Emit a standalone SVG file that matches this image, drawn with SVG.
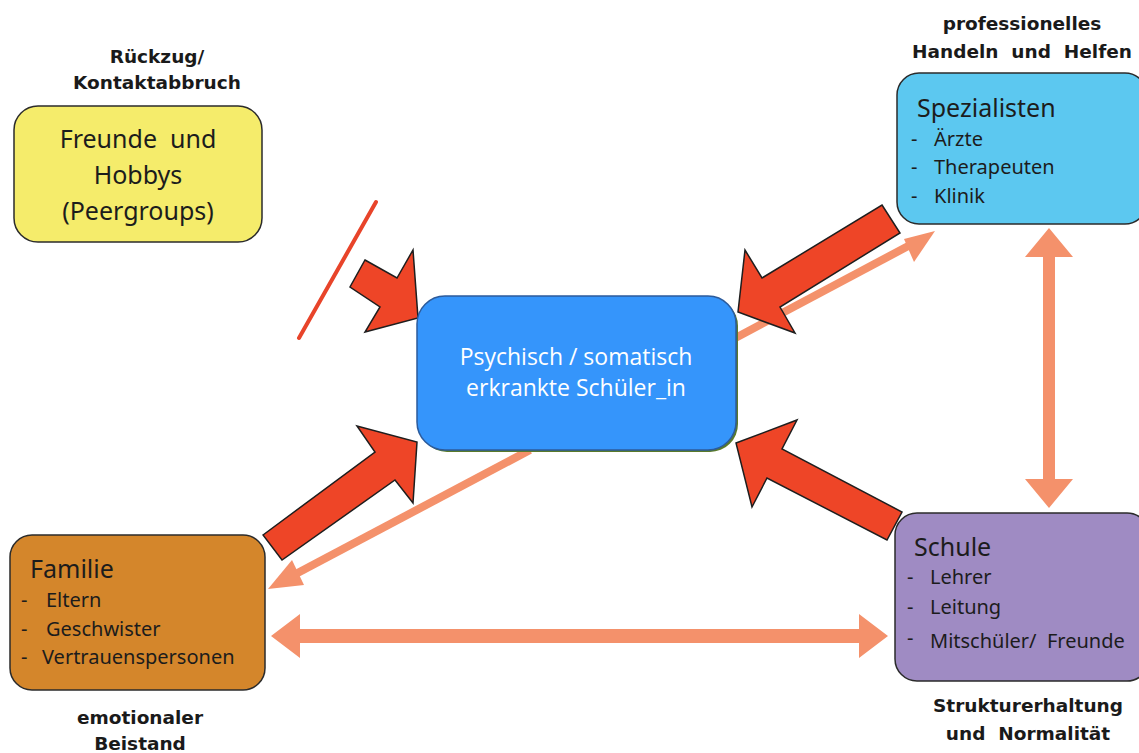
<svg xmlns="http://www.w3.org/2000/svg" width="1139" height="753" viewBox="0 0 1139 753">
<style>
text{white-space:pre}
.lbl{font-family:"DejaVu Sans","Liberation Sans",sans-serif;font-weight:bold;font-size:18.5px;fill:#1a1a1a;text-anchor:middle}
.box{stroke:#2b2b2b;stroke-width:1.5}
.ttl{font-family:"Noto Sans","Liberation Sans",sans-serif;font-size:25px;fill:#1c1c1c}
.itm{font-family:"Noto Sans","Liberation Sans",sans-serif;font-size:20px;fill:#1c1c1c}
.red{fill:#ee4527;stroke:#1e1e1e;stroke-width:1.5;stroke-linejoin:miter}
.sal{fill:#f4916b}
.salL{stroke:#f4916b;stroke-width:8;fill:none}
</style>
<rect width="1139" height="753" fill="#ffffff"/>

<g id="connectors">
  <line class="salL" x1="600" y1="410" x2="912" y2="244"/>
  <polygon class="sal" points="935,231 904,239 914,262"/>
  <line class="salL" x1="530" y1="450" x2="290" y2="577"/>
  <polygon class="sal" points="268,589 292,560 304,585"/>
  <polygon class="sal" points="1049,228 1073,257 1055,257 1055,479 1073,479 1049,508 1025,479 1043,479 1043,257 1025,257"/>
  <polygon class="sal" points="271,636 300,614 300,629 859,629 859,614 888,636 859,658 859,643 300,643 300,658"/>
  <polygon class="red" points="365,260 397,278 413,250 418,318 365,332 380,307 350,287"/>
  <polygon class="red" points="263,535 375,452 357,426 417,442 413,503 395,480 282,560"/>
  <polygon class="red" points="736,443 797,420 782,449 902,512 887,540 767,478 752,507"/>
  <polygon class="red" points="882,205 900,233 780,307 795,333 738,312 745,250 762,278"/>
  <path d="M376,202 L299,338" stroke="#e8442a" stroke-width="4" stroke-linecap="round" fill="none"/>
</g>

<g id="node-center">
  <rect x="419" y="298" width="319" height="154" rx="28" fill="#5a7a2a"/>
  <rect x="417" y="296" width="319" height="154" rx="28" fill="#3595fb" stroke="#2c5b9c" stroke-width="1.5"/>
  <text x="576" y="365" font-family="'Open Sans','Noto Sans',sans-serif" font-size="23" fill="#ffffff" text-anchor="middle">Psychisch / somatisch</text>
  <text x="576" y="396" font-family="'Open Sans','Noto Sans',sans-serif" font-size="23" fill="#ffffff" text-anchor="middle">erkrankte Schüler_in</text>
</g>

<g id="node-freunde">
  <text class="lbl" x="157" y="63">Rückzug/</text>
  <text class="lbl" x="157" y="89">Kontaktabbruch</text>
  <rect class="box" x="14" y="106" width="248" height="136" rx="24" fill="#f5ec6b"/>
  <text class="ttl" x="138" y="148" text-anchor="middle" font-size="24">Freunde  und</text>
  <text class="ttl" x="138" y="184" text-anchor="middle" font-size="24">Hobbys</text>
  <text class="ttl" x="138" y="220" text-anchor="middle" font-size="24">(Peergroups)</text>
</g>

<g id="node-spezialisten">
  <text class="lbl" x="1022" y="30">professionelles</text>
  <text class="lbl" x="1022" y="58">Handeln  und  Helfen</text>
  <rect class="box" x="897" y="73" width="250" height="151" rx="22" fill="#5cc8f0"/>
  <text class="ttl" x="917" y="117" font-size="28.5">Spezialisten</text>
  <text class="itm" x="911" y="146">-</text><text class="itm" x="934" y="146">Ärzte</text>
  <text class="itm" x="911" y="174">-</text><text class="itm" x="934" y="174">Therapeuten</text>
  <text class="itm" x="911" y="203">-</text><text class="itm" x="934" y="203">Klinik</text>
</g>

<g id="node-familie">
  <rect class="box" x="10" y="535" width="255" height="155" rx="22" fill="#d4862b"/>
  <text class="ttl" x="30" y="578" font-size="27">Familie</text>
  <text class="itm" x="21" y="607">-</text><text class="itm" x="46" y="607">Eltern</text>
  <text class="itm" x="21" y="636">-</text><text class="itm" x="46" y="636">Geschwister</text>
  <text class="itm" x="21" y="664">-</text><text class="itm" x="42" y="664">Vertrauenspersonen</text>
  <text class="lbl" x="140" y="724">emotionaler</text>
  <text class="lbl" x="140" y="750">Beistand</text>
</g>

<g id="node-schule">
  <rect class="box" x="895" y="513" width="254" height="168" rx="22" fill="#9f8bc3"/>
  <text class="ttl" x="914" y="556" font-size="28">Schule</text>
  <text class="itm" x="907" y="584">-</text><text class="itm" x="930" y="584">Lehrer</text>
  <text class="itm" x="907" y="614">-</text><text class="itm" x="930" y="614">Leitung</text>
  <text class="itm" x="907" y="645">-</text><text class="itm" x="930" y="648">Mitschüler/  Freunde</text>
  <text class="lbl" x="1028" y="712">Strukturerhaltung</text>
  <text class="lbl" x="1028" y="740">und  Normalität</text>
</g>
</svg>
